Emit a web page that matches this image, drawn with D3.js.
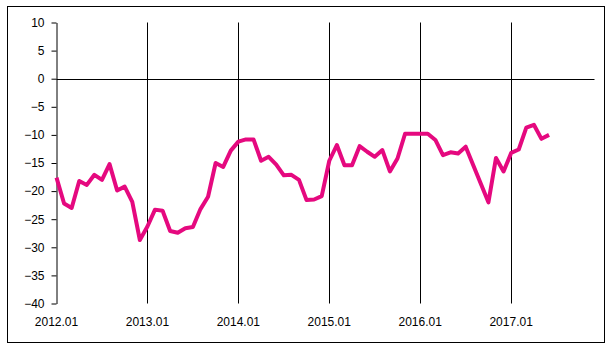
<!DOCTYPE html>
<html>
<head>
<meta charset="utf-8">
<script src="https://cdn.jsdelivr.net/npm/d3@7"></script>
<style>
  body { margin: 0; background: #fff; }
  text { font-family: "Liberation Sans", Arial, sans-serif; font-size: 12px; fill: #000; }
</style>
</head>
<body>
<svg id="chart" width="615" height="357"></svg>
<script>
// monthly index values, 2012.01 - 2017.06
const years = [2012, 2013, 2014, 2015, 2016, 2017];
const months = years.flatMap((y) => d3.range(1, 13).map((m) => `${y}.${String(m).padStart(2, "0")}`));
const values = [
  -17.6, -22.2, -23.0, -18.2, -18.9, -17.1, -18.0, -15.2, -19.9, -19.2, -21.9, -28.7,
  -26.3, -23.3, -23.5, -27.1, -27.4, -26.6, -26.4, -23.2, -21.0, -15.0, -15.7, -12.8,
  -11.2, -10.8, -10.8, -14.6, -13.9, -15.3, -17.2, -17.1, -18.0, -21.6, -21.5, -20.9,
  -14.6, -11.8, -15.4, -15.4, -12.0, -13.0, -13.9, -12.7, -16.5, -14.2, -9.8, -9.8,
  -9.8, -9.8, -10.9, -13.6, -13.1, -13.3, -12.1, -15.4, -18.7, -22.0, -14.1, -16.5,
  -13.2, -12.6, -8.7, -8.2, -10.7, -10.0
];
const xTicks = ["2012.01", "2013.01", "2014.01", "2015.01", "2016.01", "2017.01"];
const yTicks = [10, 5, 0, -5, -10, -15, -20, -25, -30, -35, -40];

const svg = d3.select("#chart");
const plot = { left: 56.5, right: 594.5, top: 22.5, bottom: 303.5 };

// frame
svg.append("rect")
  .attr("x", 7.5).attr("y", 6.5)
  .attr("width", 597).attr("height", 336)
  .attr("fill", "none").attr("stroke", "#000").attr("stroke-width", 1);

const x = d3.scalePoint().domain(months).range([plot.left, plot.right]);
const y = d3.scaleLinear().domain([-40, 10]).range([plot.bottom, plot.top]);

// vertical gridlines at each year
svg.append("g")
  .selectAll("line")
  .data(xTicks.slice(1))
  .join("line")
  .attr("x1", (d) => Math.round(x(d)) + 0.5)
  .attr("x2", (d) => Math.round(x(d)) + 0.5)
  .attr("y1", plot.top).attr("y2", plot.bottom)
  .attr("stroke", "#000");

// zero line
svg.append("line")
  .attr("x1", plot.left).attr("x2", plot.right)
  .attr("y1", Math.round(y(0)) + 0.5).attr("y2", Math.round(y(0)) + 0.5)
  .attr("stroke", "#000");

// y axis
const yAxis = svg.append("g")
  .attr("transform", `translate(${plot.left},0)`)
  .call(d3.axisLeft(y).tickValues(yTicks).tickSize(5).tickSizeOuter(0).tickPadding(7));
yAxis.selectAll("path, line").attr("stroke", "#000");
yAxis.selectAll("text").style("font-size", "12px").style("font-family", "'Liberation Sans', Arial, sans-serif").attr("fill", "#000");

// x labels
svg.append("g")
  .selectAll("text")
  .data(xTicks)
  .join("text")
  .attr("x", (d) => x(d))
  .attr("y", 326)
  .attr("text-anchor", "middle")
  .text((d) => d);

// series line
const line = d3.line()
  .x((d, i) => x(months[i]))
  .y((d) => y(d));

svg.append("path")
  .datum(values)
  .attr("d", line)
  .attr("fill", "none")
  .attr("stroke", "#e5097f")
  .attr("stroke-width", 4)
  .attr("stroke-linejoin", "round");
</script>
</body>
</html>
